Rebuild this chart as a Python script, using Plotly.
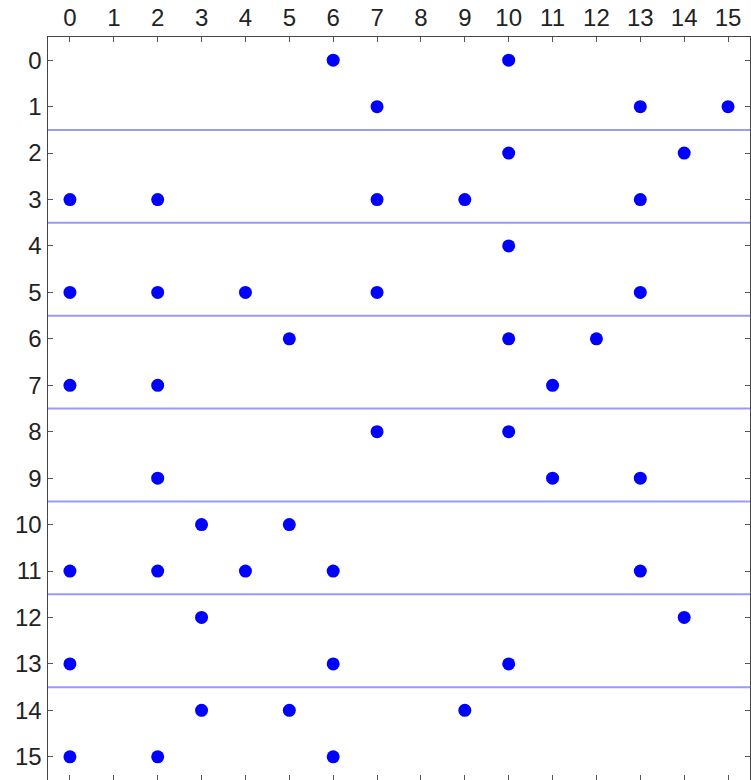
import plotly.graph_objects as go

# Sparse pattern: row index -> column indices of nonzeros
rows = list(range(16))
row_cols = [
    [6, 10],
    [7, 13, 15],
    [10, 14],
    [0, 2, 7, 9, 13],
    [10],
    [0, 2, 4, 7, 13],
    [5, 10, 12],
    [0, 2, 11],
    [7, 10],
    [2, 11, 13],
    [3, 5],
    [0, 2, 4, 6, 13],
    [3, 14],
    [0, 6, 10],
    [3, 5, 9],
    [0, 2, 6],
]
separator_rows = [1.5, 3.5, 5.5, 7.5, 9.5, 11.5, 13.5]
tick_vals = list(range(16))
tick_text = [str(v) for v in tick_vals]

xs, ys = [], []
for r, cols in zip(rows, row_cols):
    for c in cols:
        xs.append(c)
        ys.append(r)

fig = go.Figure()
fig.add_trace(go.Scatter(
    x=xs, y=ys, mode="markers",
    marker=dict(color="#0000ff", size=13, line=dict(width=0)),
    hoverinfo="skip", showlegend=False,
))

for yv in separator_rows:
    fig.add_shape(type="line", xref="paper", yref="y", x0=0, x1=1, y0=yv, y1=yv,
                  line=dict(color="rgba(70,70,255,0.55)", width=2), layer="below")

axis_common = dict(
    showgrid=False, zeroline=False, showline=True, linecolor="#444444", linewidth=1.5,
    mirror="allticks", ticks="inside", ticklen=5, tickwidth=1, tickcolor="#555555",
    tickfont=dict(family="Liberation Sans, Arial, sans-serif", size=24, color="#222222"),
    tickvals=tick_vals, ticktext=tick_text, automargin=False, fixedrange=True,
)

fig.update_layout(
    width=751, height=780,
    margin=dict(l=48, r=1, t=37, b=0, pad=0),
    paper_bgcolor="white", plot_bgcolor="white",
    xaxis=dict(side="top", range=[-0.5, 15.5], **axis_common),
    yaxis=dict(range=[15.5, -0.5], **axis_common),
)

fig.write_html(
    "out.html",
    config={"displayModeBar": False, "staticPlot": True},
    post_script="document.body.style.margin='0';document.body.style.overflow='hidden';",
)
